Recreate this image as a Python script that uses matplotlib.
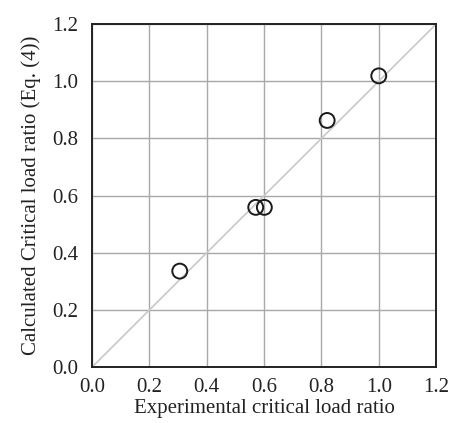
import matplotlib
matplotlib.use("Agg")
import matplotlib.pyplot as plt

experimental = [0.306, 0.571, 0.601, 0.820, 1.000]
calculated = [0.336, 0.559, 0.559, 0.863, 1.019]
ticks = [0.0, 0.2, 0.4, 0.6, 0.8, 1.0, 1.2]
tick_labels = ["0.0", "0.2", "0.4", "0.6", "0.8", "1.0", "1.2"]

plt.rcParams['font.family'] = ['Liberation Serif', 'DejaVu Serif']

fig = plt.figure(figsize=(4.51, 4.23), dpi=100)
ax = fig.add_axes([0.204, 0.132, 0.763, 0.811])

ax.plot([0, 1.2], [0, 1.2], color='#c8c8c8', lw=1.2, zorder=1)
ax.scatter(experimental, calculated, s=115, facecolors='none', edgecolors='#1a1a1a',
           linewidths=1.4, zorder=3)

ax.set_xlim(0, 1.2)
ax.set_ylim(0, 1.2)
ax.set_xticks(ticks)
ax.set_yticks(ticks)
ax.set_xticklabels(tick_labels)
ax.set_yticklabels(tick_labels)
ax.grid(True, color='#a8a8a8', lw=1.0, zorder=0)
ax.set_axisbelow(True)
ax.tick_params(length=0, labelsize=15, colors='#222222')
ax.tick_params(axis='x', pad=8)
ax.tick_params(axis='y', pad=10)
for s in ax.spines.values():
    s.set_linewidth(1.4)
    s.set_color('#222222')

ax.set_xlabel("Experimental critical load ratio", fontsize=15, labelpad=1, color='#222222')
ax.set_ylabel("Calculated Critical load ratio (Eq. (4))", fontsize=15, labelpad=8, color='#222222')

fig.savefig("out.png", dpi=100)
